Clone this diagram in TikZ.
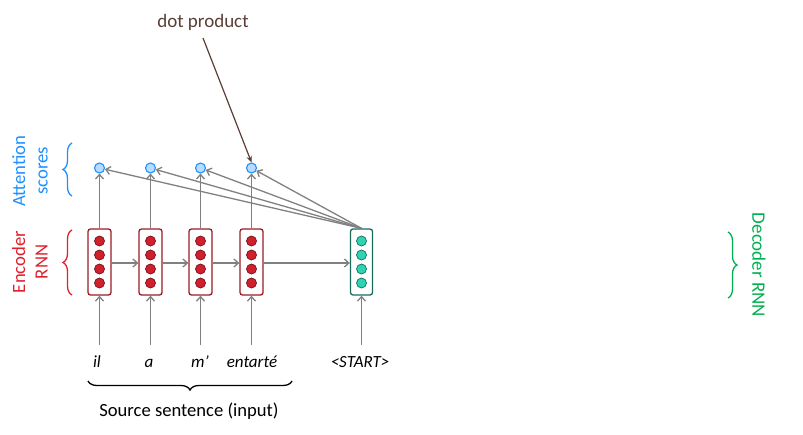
\documentclass[tikz,border=0pt]{standalone}
\usepackage{fontspec}
\setmainfont{Carlito}
\usetikzlibrary{arrows.meta,decorations.pathreplacing,calc}
\definecolor{encborder}{HTML}{9B1B25}
\definecolor{encdot}{HTML}{D0202E}
\definecolor{encdotb}{HTML}{7A0E16}
\definecolor{decborder}{HTML}{1A6B5C}
\definecolor{decdot}{HTML}{2ED3B2}
\definecolor{decdotb}{HTML}{127060}
\definecolor{attfill}{HTML}{B8DCFF}
\definecolor{attborder}{HTML}{1E90FF}
\definecolor{conn}{HTML}{808080}
\definecolor{lblblue}{HTML}{1E90FF}
\definecolor{lblred}{HTML}{E0202C}
\definecolor{lblgreen}{HTML}{00B050}
\definecolor{brown}{HTML}{5A3E36}
\begin{document}
\begin{tikzpicture}[x=1pt,y=-1pt,
  encbox/.style={draw=encborder,line width=1.3pt,rounded corners=2.5pt,minimum width=23pt,minimum height=66pt,inner sep=0pt,fill=white},
  decbox/.style={draw=decborder,line width=1.3pt,rounded corners=2.5pt,minimum width=22pt,minimum height=66pt,inner sep=0pt,fill=white},
  encdotst/.style={circle,draw=encdotb,fill=encdot,line width=0.7pt,minimum size=10pt,inner sep=0pt},
  decdotst/.style={circle,draw=decdotb,fill=decdot,line width=0.7pt,minimum size=10pt,inner sep=0pt},
  att/.style={circle,draw=attborder,fill=attfill,line width=1.1pt,minimum size=10pt,inner sep=0pt},
  conn/.style={draw=conn,line width=1.3pt,-{Straight Barb[length=4.5pt,width=8pt]}},
  word/.style={font=\fontsize{17}{20}\selectfont\itshape,inner sep=0pt,anchor=base},
  sidelbl/.style={align=center,font=\fontsize{18.7}{22.5}\selectfont},
  brc/.style={decorate,decoration={brace,amplitude=9pt},line width=1.3pt}
]
\useasboundingbox (0,0) rectangle (803,434);
% encoder boxes
\foreach \i/\x in {1/99.5,2/150.5,3/200.5,4/251.5}{
  \node[encbox] (e\i) at (\x,262) {};
  \foreach \j/\y in {1/241,2/255,3/269,4/283}{
    \node[encdotst] (e\i d\j) at (\x,\y) {};
  }
  \node[att] (a\i) at (\x,168) {};
  \coordinate (in\i) at (\x,345);
}
% decoder box
\node[decbox] (d) at (361.5,262) {};
\foreach \j/\y in {1/241,2/255,3/269,4/283}{
  \node[decdotst] (dd\j) at (361.5,\y) {};
}
\coordinate (ins) at (361.5,345);
% words
\node[word] (w1) at (97,367) {il};
\node[word] (w2) at (149,367) {a};
\node[word] (w3) at (200,367) {m’};
\node[word] (w4) at (252,367) {entarté};
\node[word] (ws) at (360,367) {<START>};
% encoder chain
\draw[conn] (e1.east|-0,263) -- (e2.west|-0,263);
\draw[conn] (e2.east|-0,263) -- (e3.west|-0,263);
\draw[conn] (e3.east|-0,263) -- (e4.west|-0,263);
\draw[conn] (e4.east|-0,263) -- (d.west|-0,263);
% inputs
\foreach \i in {1,2,3,4}{
  \draw[conn] (in\i) -- (e\i.south);
  \draw[conn] (e\i.north) -- (a\i.south);
}
\draw[conn] (ins) -- (d.south);
% decoder to attention
\foreach \i in {1,2,3,4}{
  \draw[conn] (d.north) -- (a\i);
}
% dot product
\node[text=brown,font=\fontsize{19}{22}\selectfont] (dp) at (203,22) {dot product};
\coordinate (dps) at (203,38);
\draw[draw=brown,line width=1.2pt,-{Stealth[length=6.5pt,width=5.5pt]}] (dps) -- (a4.north);
% braces
\draw[brc,draw=lblblue] (72,196) -- (72,143) coordinate (b1);
\draw[brc,draw=lblred] (72,295) -- (72,230) coordinate (b2);
\draw[brc,draw=lblgreen] (728,232) -- (728,298) coordinate (b3);
\draw[brc,draw=black] (292,381) -- (88,381) coordinate (b4);
% labels
\node[text=lblblue,rotate=90,sidelbl] (latt) at (30,171) {Attention\\scores};
\node[text=lblred,rotate=90,sidelbl] (lenc) at (30,262) {Encoder\\RNN};
\node[text=lblgreen,rotate=-90,font=\fontsize{19}{22}\selectfont] (ldec) at (759,265) {Decoder RNN};
\node[font=\fontsize{18.6}{22}\selectfont] (src) at (189,411) {Source sentence (input)};
\end{tikzpicture}
\end{document}
